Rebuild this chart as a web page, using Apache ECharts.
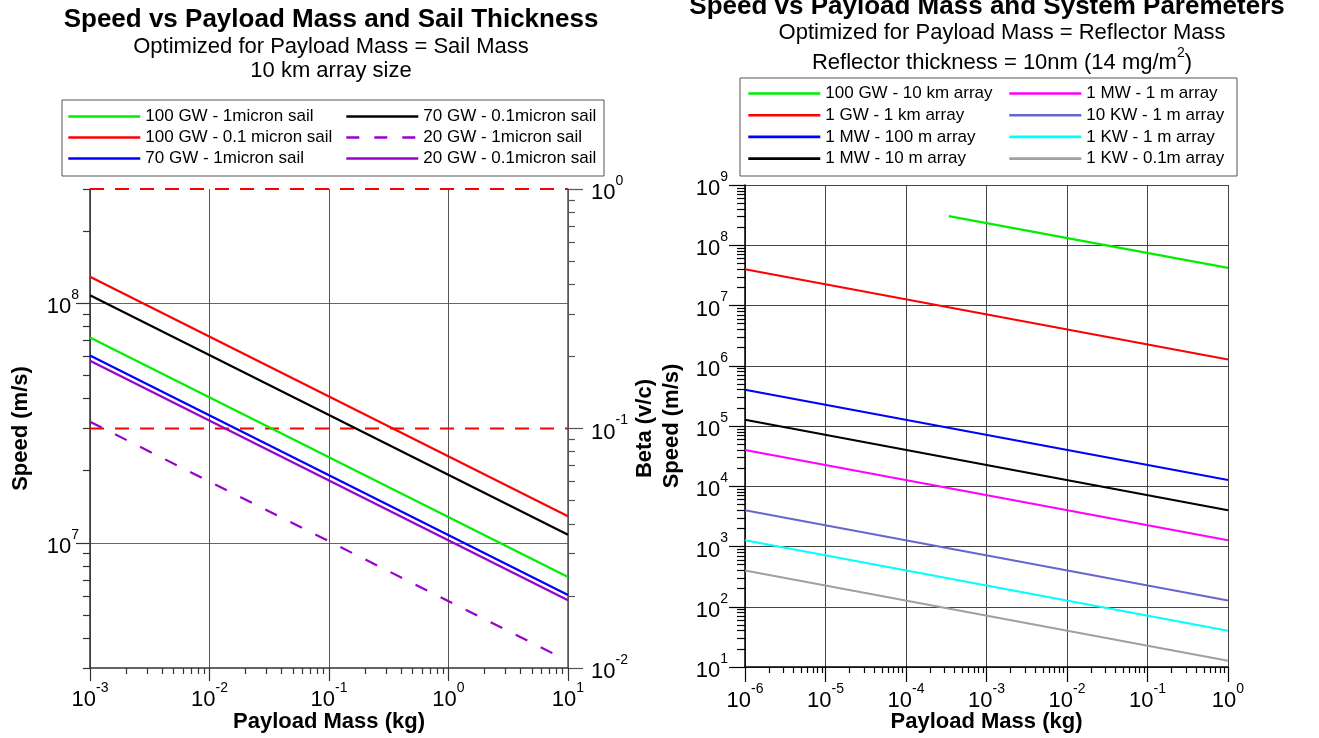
<!DOCTYPE html>
<html>
<head>
<meta charset="utf-8">
<script src="https://cdn.jsdelivr.net/npm/echarts@6/dist/echarts.min.js"></script>
<style>
html,body{margin:0;padding:0;background:#fff;}
#c{width:1319px;height:738px;}
</style>
</head>
<body>
<div id="c"></div>
<script>
// ---------- LEFT CHART DATA ----------
const leftMass = [1e-3, 10];
const left100GW_1um = [7.2e7, 7.2e6];
const left100GW_01um = [1.29e8, 1.29e7];
const left70GW_1um = [6.05e7, 6.05e6];
const left70GW_01um = [1.08e8, 1.08e7];
const left20GW_1umMass = [1e-3, 7.5];
const left20GW_1um = [3.2e7, 3.45e6];
const left20GW_01um = [5.75e7, 5.75e6];
const betaLimitMass = [1e-3, 10];
const betaOne = [1, 1];
const betaTenth = [0.1, 0.1];
const leftXTicks = [1e-3, 1e-2, 1e-1, 1, 10];
const leftYTicks = [1e7, 1e8];
const leftBetaTicks = [1e-2, 1e-1, 1];

// ---------- RIGHT CHART DATA ----------
const rightMass = [1e-6, 1];
const r100GW_10km_mass = [3.4e-4, 1];
const r100GW_10km = [3.05e8, 4.2e7];
const r1GW_1km = [4.0e7, 1.27e6];
const r1MW_100m = [4.0e5, 1.27e4];
const r1MW_10m = [1.27e5, 4.0e3];
const r1MW_1m = [4.0e4, 1.27e3];
const r10KW_1m = [4.0e3, 127];
const r1KW_1m = [1.27e3, 40];
const r1KW_01m = [400, 12.7];
const rightXTicks = [1e-6, 1e-5, 1e-4, 1e-3, 1e-2, 1e-1, 1];
const rightYTicks = [1e1, 1e2, 1e3, 1e4, 1e5, 1e6, 1e7, 1e8, 1e9];

function minorTicks(lo, hi, from, to) {
  const out = [];
  for (let e = lo; e <= hi; e++) {
    for (let m = 2; m <= 9; m++) {
      const v = m * Math.pow(10, e);
      if (v >= from * 0.9999 && v <= to * 1.0001) out.push(v);
    }
  }
  return out;
}
const leftXMinor = minorTicks(-3, 0, 1e-3, 10);
const leftYMinor = minorTicks(6, 8, 3e6, 3e8);
const leftBetaMinor = minorTicks(-2, -1, 1e-2, 1);
const rightXMinor = minorTicks(-6, -1, 1e-6, 1);
const rightYMinor = minorTicks(1, 8, 10, 1e9);

const pairs = (xs, ys) => xs.map((x, i) => [x, ys[i]]);
const FONT = '"Liberation Sans", Arial, sans-serif';

const supFmt = v => {
  const e = Math.round(Math.log10(v));
  return '{b|10}{s|' + e + '}';
};
const supRich = {
  b: { fontSize: 22, fontFamily: FONT, color: '#000', lineHeight: 30, verticalAlign: 'bottom' },
  s: { fontSize: 14, fontFamily: FONT, color: '#000', lineHeight: 30, verticalAlign: 'top' }
};

function majorAxis(o) {
  return Object.assign({
    type: 'log', logBase: 10,
    axisLine: { show: true, onZero: false, lineStyle: { color: o.lineColor || '#333', width: 1.5 } },
    axisTick: { show: true, inside: false, length: o.tickLen, customValues: o.ticks, lineStyle: { color: o.lineColor || '#333', width: 1.2 } },
    axisLabel: { show: o.labels !== false, customValues: o.ticks, margin: o.margin, formatter: supFmt, rich: supRich },
    splitLine: { show: o.split !== false, lineStyle: { color: o.splitColor || '#666', width: 1 } },
    minorTick: { show: false }, minorSplitLine: { show: false },
    nameLocation: 'middle',
    nameMoveOverlap: false,
    nameTextStyle: { fontFamily: FONT, fontWeight: 'bold', fontSize: 22, color: '#000' }
  }, o.extra);
}
function minorAxis(o) {
  return Object.assign({
    type: 'log', logBase: 10,
    axisLine: { show: false, onZero: false },
    axisTick: { show: true, inside: false, length: o.tickLen, customValues: o.ticks, lineStyle: { color: o.lineColor || '#333', width: 1.2 } },
    axisLabel: { show: false },
    splitLine: { show: false },
    minorTick: { show: false }
  }, o.extra);
}

const lineSeries = (name, data, color, xi, yi, dash) => ({
  name, type: 'line', data, xAxisIndex: xi, yAxisIndex: yi,
  symbol: 'none', silent: true, animation: false,
  lineStyle: { color, width: 2.2, type: dash || 'solid' },
  itemStyle: { color }
});

const legendText = { fontFamily: FONT, fontSize: 17, color: '#000' };
const legendBase = {
  orient: 'vertical', selectedMode: false, itemWidth: 72, itemHeight: 14,
  textStyle: legendText, padding: 0,
  itemStyle: { opacity: 0, color: 'transparent', borderWidth: 0 },
  lineStyle: { width: 2.6 }
};

const titleFont = 'bold 26px ' + FONT;
const subFont = '22px ' + FONT;

const chart = echarts.init(document.getElementById('c'), null, { renderer: 'canvas' });
const option = {
  animation: false,
  backgroundColor: '#fff',
  grid: [
    { left: 90, top: 189, width: 478, height: 479, outerBoundsMode: 'none', containLabel: false },
    { left: 745, top: 185, width: 483, height: 482, outerBoundsMode: 'none', containLabel: false }
  ],
  xAxis: [
    majorAxis({ ticks: leftXTicks, tickLen: 13, margin: 13, splitColor: '#555',
      extra: { gridIndex: 0, position: 'bottom', min: 1e-3, max: 10, name: 'Payload Mass (kg)', nameGap: 43 } }),
    minorAxis({ ticks: leftXMinor, tickLen: 6, extra: { gridIndex: 0, position: 'bottom', min: 1e-3, max: 10 } }),
    majorAxis({ ticks: rightXTicks, tickLen: 15, margin: 15, lineColor: '#000', splitColor: '#444',
      extra: { gridIndex: 1, position: 'bottom', min: 1e-6, max: 1, name: 'Payload Mass (kg)', nameGap: 44 } }),
    minorAxis({ ticks: rightXMinor, tickLen: 6, lineColor: '#000', extra: { gridIndex: 1, position: 'bottom', min: 1e-6, max: 1 } })
  ],
  yAxis: [
    majorAxis({ ticks: leftYTicks, tickLen: 14, margin: 11, splitColor: '#666',
      extra: { gridIndex: 0, position: 'left', min: 3e6, max: 3e8, name: 'Speed (m/s)', nameGap: 58 } }),
    majorAxis({ ticks: leftBetaTicks, tickLen: 15, margin: 23, lineColor: '#555', split: false,
      extra: { gridIndex: 0, position: 'right', min: 1e-2, max: 1, name: 'Beta (v/c)', nameGap: 66, nameRotate: 90 } }),
    minorAxis({ ticks: leftYMinor, tickLen: 7, extra: { gridIndex: 0, position: 'left', min: 3e6, max: 3e8 } }),
    minorAxis({ ticks: leftBetaMinor, tickLen: 7, lineColor: '#555', extra: { gridIndex: 0, position: 'right', min: 1e-2, max: 1 } }),
    majorAxis({ ticks: rightYTicks, tickLen: 16, margin: 17, lineColor: '#000', splitColor: '#444',
      extra: { gridIndex: 1, position: 'left', min: 10, max: 1e9, name: 'Speed (m/s)', nameGap: 62 } }),
    minorAxis({ ticks: rightYMinor, tickLen: 8, lineColor: '#000', extra: { gridIndex: 1, position: 'left', min: 10, max: 1e9 } })
  ],
  legend: [
    Object.assign({}, legendBase, { left: 67, top: 108, itemGap: 4,
      data: ['100 GW - 1micron sail', '100 GW - 0.1 micron sail', '70 GW - 1micron sail'] }),
    Object.assign({}, legendBase, { left: 345, top: 108, itemGap: 4,
      data: ['70 GW - 0.1micron sail', '20 GW - 1micron sail', '20 GW - 0.1micron sail'] }),
    Object.assign({}, legendBase, { left: 747, top: 85, itemGap: 4.7,
      data: ['100 GW - 10 km array', '1 GW - 1 km array', '1 MW - 100 m array', '1 MW - 10 m array'] }),
    Object.assign({}, legendBase, { left: 1008, top: 85, itemGap: 4.7,
      data: ['1 MW - 1 m array', '10 KW - 1 m array', '1 KW - 1 m array', '1 KW - 0.1m array'] })
  ],
  graphic: [
    { type: 'rect', shape: { x: 62, y: 100, width: 542, height: 76 }, style: { fill: 'none', stroke: '#555', lineWidth: 1 }, silent: true },
    { type: 'rect', shape: { x: 740, y: 78, width: 497, height: 98 }, style: { fill: 'none', stroke: '#555', lineWidth: 1 }, silent: true },
    { type: 'text', x: 331, y: 20, silent: true, style: { text: 'Speed vs Payload Mass and Sail Thickness', font: titleFont, fill: '#000', textAlign: 'center', textVerticalAlign: 'middle' } },
    { type: 'text', x: 331, y: 47, silent: true, style: { text: 'Optimized for Payload Mass = Sail Mass', font: subFont, fill: '#000', textAlign: 'center', textVerticalAlign: 'middle' } },
    { type: 'text', x: 331, y: 71, silent: true, style: { text: '10 km array size', font: subFont, fill: '#000', textAlign: 'center', textVerticalAlign: 'middle' } },
    { type: 'text', x: 987, y: 7, silent: true, style: { text: 'Speed vs Payload Mass and System Paremeters', font: titleFont, fill: '#000', textAlign: 'center', textVerticalAlign: 'middle' } },
    { type: 'text', x: 1002, y: 33, silent: true, style: { text: 'Optimized for Payload Mass = Reflector Mass', font: subFont, fill: '#000', textAlign: 'center', textVerticalAlign: 'middle' } },
    { type: 'text', x: 1002, y: 60, silent: true, style: {
      text: '{a|Reflector thickness = 10nm (14 mg/m}{s|2}{a|)}', textAlign: 'center', textVerticalAlign: 'middle',
      rich: { a: { fontFamily: FONT, fontSize: 22, color: '#000', lineHeight: 28, verticalAlign: 'bottom' },
              s: { fontFamily: FONT, fontSize: 14, color: '#000', lineHeight: 28, verticalAlign: 'top' } } } }
  ],
  series: [
    lineSeries('betaOne', pairs(betaLimitMass, betaOne), '#ff0000', 0, 1, [14, 11]),
    lineSeries('betaTenth', pairs(betaLimitMass, betaTenth), '#ff0000', 0, 1, [14, 11]),
    lineSeries('100 GW - 1micron sail', pairs(leftMass, left100GW_1um), '#00ee00', 0, 0),
    lineSeries('100 GW - 0.1 micron sail', pairs(leftMass, left100GW_01um), '#ff0000', 0, 0),
    lineSeries('70 GW - 1micron sail', pairs(leftMass, left70GW_1um), '#0000ff', 0, 0),
    lineSeries('70 GW - 0.1micron sail', pairs(leftMass, left70GW_01um), '#000000', 0, 0),
    lineSeries('20 GW - 1micron sail', pairs(left20GW_1umMass, left20GW_1um), '#9900cc', 0, 0, [13, 15]),
    lineSeries('20 GW - 0.1micron sail', pairs(leftMass, left20GW_01um), '#9900cc', 0, 0),
    lineSeries('100 GW - 10 km array', pairs(r100GW_10km_mass, r100GW_10km), '#00ee00', 2, 4),
    lineSeries('1 GW - 1 km array', pairs(rightMass, r1GW_1km), '#ff0000', 2, 4),
    lineSeries('1 MW - 100 m array', pairs(rightMass, r1MW_100m), '#0000ff', 2, 4),
    lineSeries('1 MW - 10 m array', pairs(rightMass, r1MW_10m), '#000000', 2, 4),
    lineSeries('1 MW - 1 m array', pairs(rightMass, r1MW_1m), '#ff00ff', 2, 4),
    lineSeries('10 KW - 1 m array', pairs(rightMass, r10KW_1m), '#6666cc', 2, 4),
    lineSeries('1 KW - 1 m array', pairs(rightMass, r1KW_1m), '#00ffff', 2, 4),
    lineSeries('1 KW - 0.1m array', pairs(rightMass, r1KW_01m), '#a0a0a0', 2, 4)
  ]
};
chart.setOption(option);
</script>
</body>
</html>
